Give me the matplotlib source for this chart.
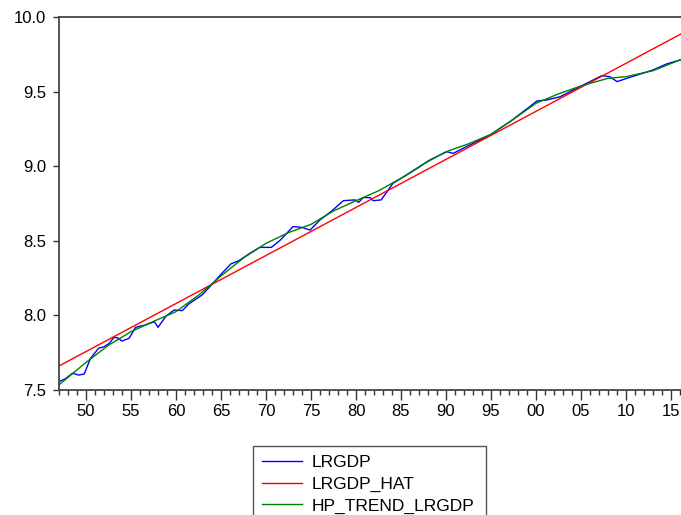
import matplotlib
matplotlib.use('Agg')
import matplotlib.pyplot as plt
from matplotlib.ticker import MultipleLocator, FuncFormatter

plt.rcParams['font.family'] = ['Liberation Sans', 'DejaVu Sans']

lrgdp_years = [1947.0, 1947.7, 1948.5, 1949.2, 1949.8, 1950.5, 1951.4, 1952.0, 1952.6, 1953.1,
               1953.5, 1954.0, 1954.8, 1955.5, 1956.6, 1957.6, 1958.0, 1958.9, 1959.8, 1960.7,
               1961.4, 1962.9, 1964.0, 1965.1, 1966.1, 1967.0, 1968.2, 1969.3, 1970.6, 1971.6,
               1973.0, 1974.0, 1974.9, 1976.0, 1977.3, 1978.6, 1979.9, 1980.3, 1980.8, 1981.6,
               1981.9, 1982.8, 1984.1, 1985.6, 1987.1, 1988.2, 1990.1, 1990.8, 1991.9, 1994.9,
               1997.1, 1999.3, 2000.1, 2001.2, 2002.7, 2004.5, 2006.0, 2007.3, 2008.2, 2009.0,
               2010.1, 2011.6, 2013.0, 2014.5, 2016.0, 2016.75]
lrgdp = [7.556, 7.575, 7.612, 7.600, 7.607, 7.712, 7.780, 7.790, 7.813, 7.853,
         7.850, 7.828, 7.847, 7.920, 7.936, 7.958, 7.920, 7.996, 8.036, 8.032,
         8.076, 8.137, 8.208, 8.282, 8.345, 8.367, 8.416, 8.456, 8.456, 8.505,
         8.595, 8.590, 8.572, 8.640, 8.700, 8.769, 8.774, 8.758, 8.790, 8.789,
         8.769, 8.774, 8.885, 8.940, 8.997, 9.042, 9.097, 9.086, 9.120, 9.209,
         9.298, 9.399, 9.437, 9.444, 9.466, 9.522, 9.567, 9.607, 9.600, 9.567,
         9.589, 9.618, 9.645, 9.685, 9.712, 9.725]

# fitted linear trend (LRGDP_HAT)
hat_years = [1947.0, 2016.75]
hat_vals = [7.661, 9.907]

# HP filter trend
hp_years = [1947.0, 1948.5, 1950.0, 1952.5, 1955.0, 1957.5, 1960.0, 1962.5, 1965.0, 1967.5,
            1970.0, 1972.5, 1975.0, 1977.5, 1980.0, 1982.5, 1985.0, 1987.5, 1990.0, 1992.5,
            1995.0, 1997.5, 2000.0, 2002.5, 2005.0, 2008.0, 2010.0, 2013.0, 2016.0, 2016.75]
hp_vals = [7.534, 7.610, 7.685, 7.800, 7.891, 7.960, 8.025, 8.135, 8.264, 8.385,
           8.483, 8.555, 8.610, 8.700, 8.769, 8.835, 8.919, 9.015, 9.097, 9.150,
           9.214, 9.315, 9.422, 9.485, 9.538, 9.589, 9.600, 9.640, 9.712, 9.728]

fig = plt.figure(figsize=(6.81, 5.15), dpi=100)
ax = fig.add_axes([59/681, 1 - 390/515, 630/681, 373/515])

ax.plot(lrgdp_years, lrgdp, color='#0000ff', lw=1.0, label='LRGDP')
ax.plot(hat_years, hat_vals, color='#ff0000', lw=1.0, label='LRGDP_HAT')
ax.plot(hp_years, hp_vals, color='#008000', lw=1.0, label='HP_TREND_LRGDP')

ax.set_xlim(1947, 2017)
ax.set_ylim(7.5, 10.0)
ax.xaxis.set_major_locator(MultipleLocator(5))
ax.xaxis.set_minor_locator(MultipleLocator(1))
ax.xaxis.set_major_formatter(FuncFormatter(lambda v, p: '%02d' % (int(round(v)) % 100)))
ax.yaxis.set_major_locator(MultipleLocator(0.5))
ax.yaxis.set_major_formatter(FuncFormatter(lambda v, p: '%.1f' % v))

ax.tick_params(axis='x', which='major', length=7, width=1, direction='out', labelsize=12, pad=3, color='#333333')
ax.tick_params(axis='x', which='minor', length=3.5, width=1, direction='out', color='#333333')
ax.tick_params(axis='y', which='major', length=4.5, width=1, direction='out', labelsize=12, pad=4.5, color='#333333')
for s in ax.spines.values():
    s.set_linewidth(1.3)
    s.set_color('#444444')

leg = fig.legend(loc='upper left', bbox_to_anchor=(253/681, 1 - 446/515 - 0.01, 233/681, 0.01),
                 mode='expand', fancybox=False, edgecolor='#555555', framealpha=1,
                 prop={'size': 12.5}, handlelength=2.35, handletextpad=0.5, labelspacing=0.38,
                 borderpad=0.5, borderaxespad=0)
leg.get_frame().set_linewidth(1.0)

fig.savefig('out.png', dpi=100)
